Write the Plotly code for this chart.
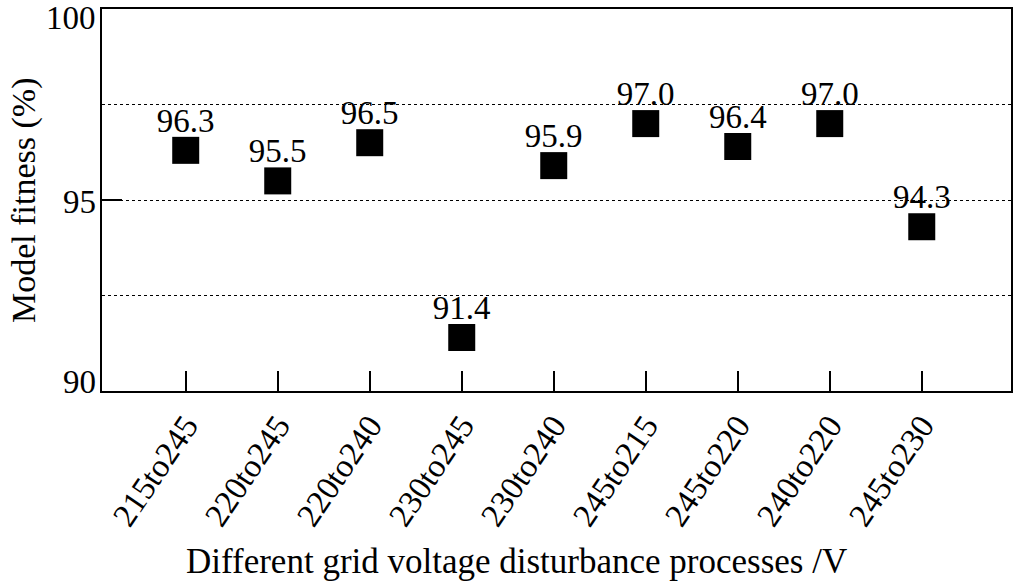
import plotly.graph_objects as go

categories = ["215to245", "220to245", "220to240", "230to245", "230to240",
              "245to215", "245to220", "240to220", "245to230"]
fitness = [96.3, 95.5, 96.5, 91.4, 95.9, 97.0, 96.4, 97.0, 94.3]
y_ticks = [90, 95, 100]
y_tick_shift = [9, -2, -9]

font_family = "Liberation Serif, Times New Roman, Times, serif"
fs = 33

xs = list(range(len(categories)))
fig = go.Figure()
fig.add_trace(go.Scatter(
    x=xs, y=fitness, mode="markers",
    marker=dict(symbol="square", size=27, color="black"),
    cliponaxis=False, showlegend=False, hoverinfo="skip",
))
fig.add_trace(go.Scatter(
    x=xs, y=fitness, mode="markers+text",
    marker=dict(symbol="square", size=15, color="rgba(0,0,0,0)"),
    text=[f"{v:.1f}" for v in fitness],
    textposition="top center",
    textfont=dict(family=font_family, size=fs, color="black"),
    cliponaxis=False, showlegend=False, hoverinfo="skip",
))

# y tick labels as annotations so the end labels stay inside the page
for v, sh in zip(y_ticks, y_tick_shift):
    fig.add_annotation(
        x=0, xref="paper", y=v, yref="y",
        text=str(v), showarrow=False,
        xanchor="right", yanchor="middle", xshift=-4, yshift=sh,
        font=dict(family=font_family, size=fs, color="black"),
    )

fig.add_annotation(
    x=0, xref="paper", y=0.5, yref="paper",
    text="Model fitness (%)", showarrow=False, textangle=-90,
    xanchor="center", yanchor="middle", xshift=-78,
    font=dict(family=font_family, size=34, color="black"),
)
fig.add_annotation(
    x=0.5, xref="paper", y=0, yref="paper",
    text="Different grid voltage disturbance processes /V", showarrow=False,
    xanchor="center", yanchor="middle", xshift=-40, yshift=-170,
    font=dict(family=font_family, size=35, color="black"),
)

fig.update_layout(
    width=1013, height=588,
    margin=dict(l=102, r=2, t=9, b=197, autoexpand=False),
    paper_bgcolor="white", plot_bgcolor="white",
    font=dict(family=font_family, size=fs, color="black"),
    hovermode=False,
)
fig.update_xaxes(
    range=[-0.91, 8.97],
    automargin=False,
    tickmode="array",
    tickvals=xs,
    ticktext=categories,
    tickangle=-56,
    ticks="inside", ticklen=20, tickwidth=1.5, tickcolor="black",
    showline=True, linecolor="black", linewidth=2, mirror=True,
    showgrid=False, zeroline=False,
    tickfont=dict(family=font_family, size=fs, color="black"),
)
fig.update_yaxes(
    range=[90, 100],
    automargin=False,
    tickmode="array",
    tickvals=y_ticks,
    showticklabels=False,
    ticks="inside", ticklen=20, tickwidth=2, tickcolor="black",
    showline=True, linecolor="black", linewidth=2, mirror=True,
    showgrid=True, gridcolor="black", gridwidth=1, griddash="dot",
    zeroline=False,
    minor=dict(dtick=2.5, showgrid=True, gridcolor="black", gridwidth=1,
               griddash="dot", ticks=""),
)

fig.write_html("out.html", config={"displayModeBar": False},
               post_script="document.body.style.margin='0';")
